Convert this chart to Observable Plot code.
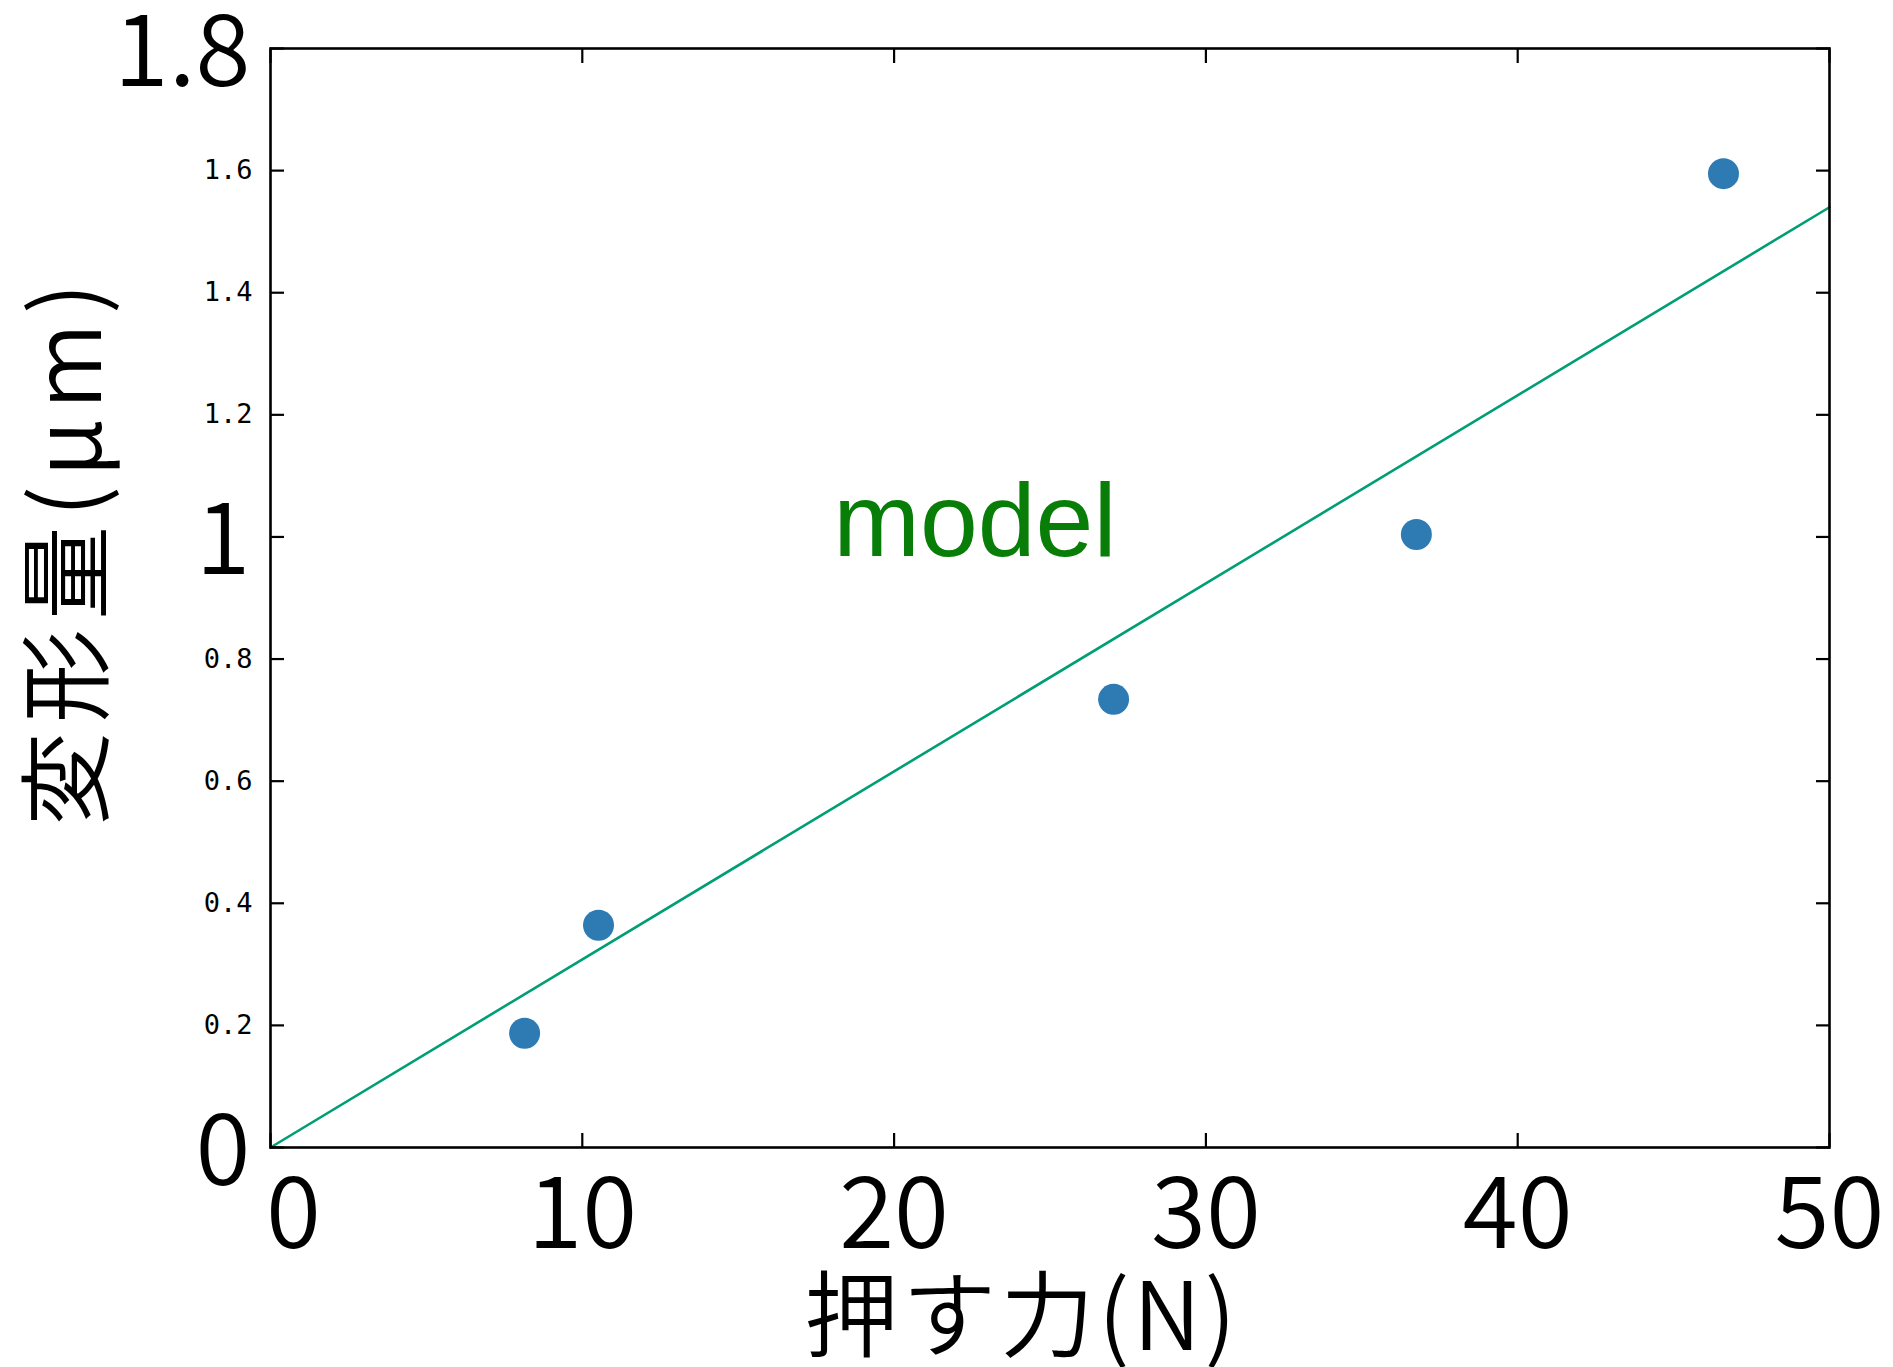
<!DOCTYPE html>
<html>
<head>
<meta charset="utf-8">
<script src="https://cdn.jsdelivr.net/npm/d3@7"></script>
<script src="https://cdn.jsdelivr.net/npm/@observablehq/plot@0.6"></script>
<style>
  html, body { margin: 0; padding: 0; background: #ffffff; }
  #chart svg { display: block; }
  #chart .ytitle { letter-spacing: 9px; }
  #chart .xtitle { letter-spacing: 4px; }
</style>
</head>
<body>
<div id="chart"></div>
<script>
// ---- data ----
const forceN = [8.15, 10.52, 27.04, 36.75, 46.6];
const deformUm = [0.187, 0.364, 0.734, 1.004, 1.595];

const modelX = [0, 50];
const modelY = [0, 1.54];

const xTicks = [0, 10, 20, 30, 40, 50];
const xTickLabels = ["0", "10", "20", "30", "40", "50"];
const yTicks = [0, 0.2, 0.4, 0.6, 0.8, 1.0, 1.2, 1.4, 1.6, 1.8];
const yBigTicks = [0, 1.0, 1.8];
const yBigLabels = ["0", "1", "1.8"];
const ySmallTicks = [0.2, 0.4, 0.6, 0.8, 1.2, 1.4, 1.6];
const ySmallLabels = ["0.2", "0.4", "0.6", "0.8", "1.2", "1.4", "1.6"];

const modelLabel = ["model"];
const modelLabelX = [18.05];
const modelLabelY = [0.968];

const xTitle = "押す力(N)";
const yTitle = "変形量(μm)";

// ---- chart ----
const points = forceN.map((x, i) => ({x, y: deformUm[i]}));
const model = modelX.map((x, i) => ({x, y: modelY[i]}));
const xLab = xTicks.map((v, i) => ({v, t: xTickLabels[i], i}));
const yBig = yBigTicks.map((v, i) => ({v, t: yBigLabels[i]}));
const ySmall = ySmallTicks.map((v, i) => ({v, t: ySmallLabels[i]}));
const note = modelLabel.map((t, i) => ({t, x: modelLabelX[i], y: modelLabelY[i]}));

const bigFont = "'Noto Sans CJK JP', 'Noto Sans', sans-serif";
const ink = "#000000";
const w = 350;

const chart = Plot.plot({
  width: 1893,
  height: 1367,
  marginLeft: 270,
  marginRight: 64,
  marginTop: 48,
  marginBottom: 220,
  style: {background: "#ffffff", overflow: "visible"},
  x: {domain: [0, 50]},
  y: {domain: [0, 1.8]},
  marks: [
    Plot.line(model, {x: "x", y: "y", stroke: "#009e73", strokeWidth: 2.6}),
    Plot.dot(points, {x: "x", y: "y", r: 15.5, fill: "#2e7bb4", stroke: "none"}),
    Plot.frame({stroke: ink, strokeWidth: 2.6}),
    // inward ticks
    Plot.axisX({anchor: "bottom", ticks: xTicks, tickSize: -14, tickFormat: () => "", strokeWidth: 2.2, label: null}),
    Plot.axisX({anchor: "top", ticks: xTicks, tickSize: -14, tickFormat: () => "", strokeWidth: 2.2, label: null}),
    Plot.axisY({anchor: "left", ticks: yTicks, tickSize: -14, tickFormat: () => "", strokeWidth: 2.2, label: null}),
    Plot.axisY({anchor: "right", ticks: yTicks, tickSize: -14, tickFormat: () => "", strokeWidth: 2.2, label: null}),
    // x tick labels
    Plot.text(xLab.filter(d => d.i > 0), {x: "v", frameAnchor: "bottom", text: "t", dy: 68, lineAnchor: "middle",
      textAnchor: "middle", fontSize: 100, fontWeight: w, fontFamily: bigFont, fill: ink}),
    Plot.text(xLab.filter(d => d.i === 0), {x: "v", frameAnchor: "bottom", text: "t", dy: 68, dx: 23, lineAnchor: "middle",
      textAnchor: "middle", fontSize: 100, fontWeight: w, fontFamily: bigFont, fill: ink}),
    // y tick labels: big
    Plot.text(yBig, {y: "v", frameAnchor: "left", text: "t", dx: -20, dy: 5, lineAnchor: "middle",
      textAnchor: "end", fontSize: 100, fontWeight: w, fontFamily: bigFont, fill: ink}),
    // y tick labels: small
    Plot.text(ySmall, {y: "v", frameAnchor: "left", text: "t", dx: -18, dy: 0, lineAnchor: "middle",
      textAnchor: "end", fontSize: 27, fontFamily: "'DejaVu Sans Mono', monospace", fill: ink}),
    // model annotation
    Plot.text(note, {x: "x", y: "y", text: "t", textAnchor: "start", lineAnchor: "bottom",
      fontSize: 104, fontFamily: "'Liberation Sans', Arial, sans-serif", fill: "#087d08"}),
    // axis titles
    Plot.text([xTitle], {frameAnchor: "bottom", text: d => d, dx: -28, dy: 172, lineAnchor: "middle",
      textAnchor: "middle", fontSize: 94, fontWeight: w, fontFamily: bigFont, fill: ink, className: "xtitle"}),
    Plot.text([yTitle], {frameAnchor: "left", text: d => d, dx: -200, dy: -48, rotate: -90, lineAnchor: "middle",
      textAnchor: "middle", fontSize: 94, fontWeight: w, fontFamily: bigFont, fill: ink, className: "ytitle"})
  ]
});
document.getElementById("chart").appendChild(chart);
</script>
</body>
</html>
